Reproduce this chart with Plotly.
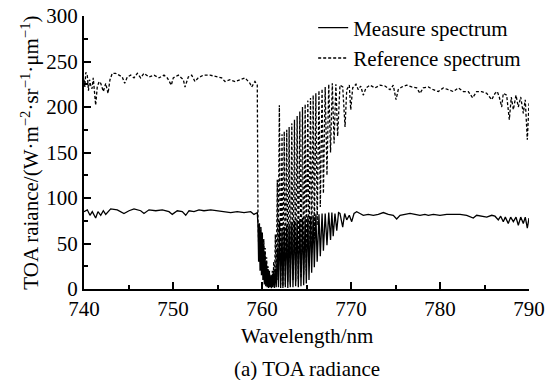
import plotly.graph_objects as go

# ---------------- data ----------------
measure_wl = [
    740.00, 740.37, 740.67, 740.93, 741.31, 741.57, 741.88, 742.17, 742.44, 742.70,
    743.00, 743.74, 744.49, 745.06, 745.62, 746.37, 746.74, 747.30, 748.06, 748.80,
    749.55, 749.92, 750.48, 751.04, 751.43, 751.80, 752.36, 752.92, 753.48, 754.24,
    754.98, 755.73, 756.48, 757.22, 757.98, 758.73, 759.10, 759.47,
    759.55, 759.62, 759.70, 759.78, 759.86, 759.94, 760.02, 760.10, 760.18, 760.26,
    760.34, 760.42, 760.50, 760.58, 760.66, 760.74, 760.82, 760.90, 760.98, 761.06,
    761.14, 761.22, 761.30, 761.40, 761.50, 761.60, 761.75, 761.85, 761.98, 762.10,
    762.25, 762.35, 762.50, 762.62, 762.78, 762.90, 763.05, 763.18, 763.35, 763.48,
    763.65, 763.78, 763.95, 764.08, 764.25, 764.38, 764.55, 764.68, 764.85, 764.98,
    765.15, 765.28, 765.45, 765.58, 765.75, 765.88, 766.05, 766.20, 766.40, 766.55,
    766.75, 766.90, 767.10, 767.30, 767.50, 767.70, 767.85, 768.00, 768.20, 768.40,
    768.60, 768.76,
    769.07, 769.29, 769.52, 769.81, 770.08, 770.34, 770.64, 771.01, 771.38, 771.94,
    772.51, 773.07, 773.63, 774.19, 774.75, 775.13, 775.51, 776.07, 776.63, 777.19,
    777.75, 778.31, 778.69, 779.25, 780.00, 780.75, 781.49, 782.25, 783.00, 783.56,
    783.74, 784.12, 784.69, 785.25, 785.81, 786.18, 786.55, 786.82, 787.11, 787.34,
    787.67, 787.94, 788.24, 788.54, 788.80, 789.07, 789.36, 789.58, 789.81, 790.00,
]
measure_val = [
    85, 87, 81, 85, 78, 85, 81, 86, 82, 85,
    88, 87, 83, 86, 88, 86, 83, 87, 86, 87,
    85, 82, 86, 85, 81, 86, 85, 87, 86, 87,
    86, 85, 84, 85, 84, 85, 82, 84,
    70, 30, 72, 20, 65, 15, 60, 10, 50, 5,
    40, 3, 30, 2, 22, 1, 18, 2, 14, 1,
    15, 2, 20, 1, 22, 2, 45, 2, 75, 1,
    65, 1, 68, 2, 70, 1, 72, 2, 74, 2,
    75, 3, 76, 2, 77, 3, 78, 4, 79, 6,
    80, 10, 80, 18, 81, 24, 82, 30, 82, 36,
    83, 42, 83, 48, 84, 54, 84, 58, 83, 64,
    84, 83,
    68, 83, 76, 81, 74, 83, 85, 83, 81, 82,
    81, 82, 84, 82, 81, 77, 81, 82, 83, 82,
    81, 82, 81, 82, 81, 82, 82, 82, 81, 79,
    78, 81, 80, 79, 81, 80, 76, 80, 74, 79,
    72, 79, 74, 79, 70, 79, 72, 79, 67, 78,
]

reference_wl = [
    740.00, 740.10, 740.20, 740.37, 740.50, 740.62, 740.75, 740.90, 741.04, 741.31,
    741.49, 741.70, 741.88, 742.17, 742.44, 742.70, 742.92, 743.18, 743.56, 743.93,
    744.30, 744.57, 744.87, 745.25, 745.62, 745.99, 746.37, 746.74, 747.30, 747.87,
    748.43, 748.99, 749.36, 749.81, 750.03, 750.60, 751.16, 751.35, 751.72, 752.10,
    752.47, 752.84, 753.40, 754.16, 754.91, 755.47, 755.84, 756.40, 756.97, 757.53,
    758.09, 758.65, 758.84, 759.21, 759.47,
    759.55, 759.65, 759.72, 759.80, 759.88, 759.96, 760.04, 760.12, 760.20, 760.28,
    760.36, 760.44, 760.52, 760.60, 760.68, 760.76, 760.84, 760.92, 761.00, 761.08,
    761.16, 761.24, 761.32, 761.40, 761.50, 761.60, 761.72, 761.80, 761.95, 762.10,
    762.25, 762.35, 762.50, 762.62, 762.78, 762.90, 763.05, 763.18, 763.35, 763.48,
    763.65, 763.78, 763.95, 764.08, 764.25, 764.38, 764.55, 764.68, 764.85, 764.98,
    765.15, 765.28, 765.45, 765.58, 765.75, 765.88, 766.05, 766.20, 766.40, 766.55,
    766.75, 766.90, 767.10, 767.30, 767.50, 767.70, 767.90, 768.10, 768.30, 768.50,
    768.76, 769.07, 769.33, 769.52, 769.81, 769.97, 770.19, 770.56, 770.82, 771.09,
    771.38, 771.69, 772.13, 772.70, 773.26, 773.82, 774.38, 774.75, 775.06, 775.31,
    775.70, 776.26, 776.82, 777.38, 777.75, 778.12, 778.69, 779.25, 779.81, 780.37,
    780.93, 781.49, 782.06, 782.62, 783.18, 783.67, 784.12, 784.69, 785.25, 785.81,
    786.18, 786.44, 786.66, 786.93, 787.11, 787.49, 787.79, 788.01, 788.24, 788.54,
    788.80, 789.07, 789.36, 789.58, 789.81, 790.00,
]
reference_val = [
    230, 222, 238, 235, 218, 230, 224, 220, 232, 202,
    222, 228, 226, 217, 226, 215, 230, 237, 237, 235,
    233, 226, 233, 235, 232, 237, 232, 237, 233, 235,
    232, 235, 232, 224, 232, 235, 230, 222, 233, 235,
    228, 232, 235, 235, 233, 232, 228, 230, 228, 230,
    232, 226, 222, 228, 224,
    75, 40, 72, 30, 68, 25, 62, 20, 55, 15,
    45, 10, 35, 5, 25, 3, 20, 2, 15, 3,
    20, 5, 30, 4, 60, 8, 120, 10, 202, 5,
    170, 3, 173, 5, 175, 8, 178, 5, 182, 10,
    186, 8, 190, 10, 195, 12, 200, 15, 203, 20,
    207, 30, 210, 40, 213, 55, 215, 70, 218, 90,
    220, 105, 222, 125, 225, 150, 226, 160, 225, 168,
    224, 222, 178, 219, 224, 197, 221, 225, 219, 223,
    213, 221, 224, 221, 224, 223, 219, 224, 208, 219,
    222, 224, 222, 221, 215, 221, 222, 219, 217, 221,
    219, 217, 221, 217, 217, 210, 217, 217, 215, 208,
    215, 217, 211, 200, 215, 213, 186, 211, 197, 213,
    200, 211, 193, 208, 164, 204,
]

x_ticks = [740, 750, 760, 770, 780, 790]
y_ticks = [0, 50, 100, 150, 200, 250, 300]

FONT = "Liberation Serif, Times New Roman, serif"

# page body has an 8px margin, so the figure is offset by (8, 8)
fig = go.Figure()
fig.add_trace(go.Scatter(
    x=measure_wl, y=measure_val, mode="lines", name="Measure spectrum",
    line=dict(color="black", width=1.3),
))
fig.add_trace(go.Scatter(
    x=reference_wl, y=reference_val, mode="lines", name="Reference spectrum",
    line=dict(color="black", width=1.3, dash="3px,2px"),
))

fig.update_layout(
    width=549, height=372,
    margin=dict(l=76, r=28, t=8, b=91, autoexpand=False),
    paper_bgcolor="white", plot_bgcolor="white",
    font=dict(family=FONT, size=20, color="black"),
    showlegend=True,
    legend=dict(
        x=0.515, y=1.031, xanchor="left", yanchor="top",
        bgcolor="rgba(0,0,0,0)", font=dict(size=21, family=FONT),
        tracegroupgap=0, itemwidth=30,
    ),
    xaxis=dict(
        range=[740, 790], tickvals=x_ticks, ticktext=[str(v) for v in x_ticks],
        ticks="inside", ticklen=7, tickwidth=2, tickcolor="black",
        showline=True, linewidth=2, linecolor="black", mirror=False,
        showgrid=False, zeroline=False, automargin=False,
        ticklabeloverflow="allow",
        minor=dict(ticks="inside", ticklen=4, tickwidth=2, tickcolor="black", dtick=5),
        tickfont=dict(size=21, family=FONT),
    ),
    yaxis=dict(
        range=[0, 300], tickvals=y_ticks, ticktext=[str(v) for v in y_ticks],
        ticks="inside", ticklen=7, tickwidth=2, tickcolor="black",
        showline=True, linewidth=2, linecolor="black", mirror=False,
        showgrid=False, zeroline=False, automargin=False,
        ticklabeloverflow="allow",
        minor=dict(ticks="inside", ticklen=4, tickwidth=2, tickcolor="black", dtick=25),
        tickfont=dict(size=21, family=FONT),
    ),
    annotations=[
        dict(text="Wavelength/nm", x=0.5, y=-0.172, xref="paper", yref="paper",
             xanchor="center", yanchor="middle", showarrow=False,
             font=dict(size=21, family=FONT)),
        dict(text="(a) TOA radiance", x=0.5, y=-0.293, xref="paper", yref="paper",
             xanchor="center", yanchor="middle", showarrow=False,
             font=dict(size=21, family=FONT)),
        dict(text="TOA raiance/(W·m<sup>−2</sup>·sr<sup>−1</sup>·μm<sup>−1</sup>)",
             x=-0.121, y=0.5, xref="paper", yref="paper", textangle=-90,
             xanchor="center", yanchor="middle", showarrow=False,
             font=dict(size=21, family=FONT)),
    ],
)

fig.write_html("out.html")
